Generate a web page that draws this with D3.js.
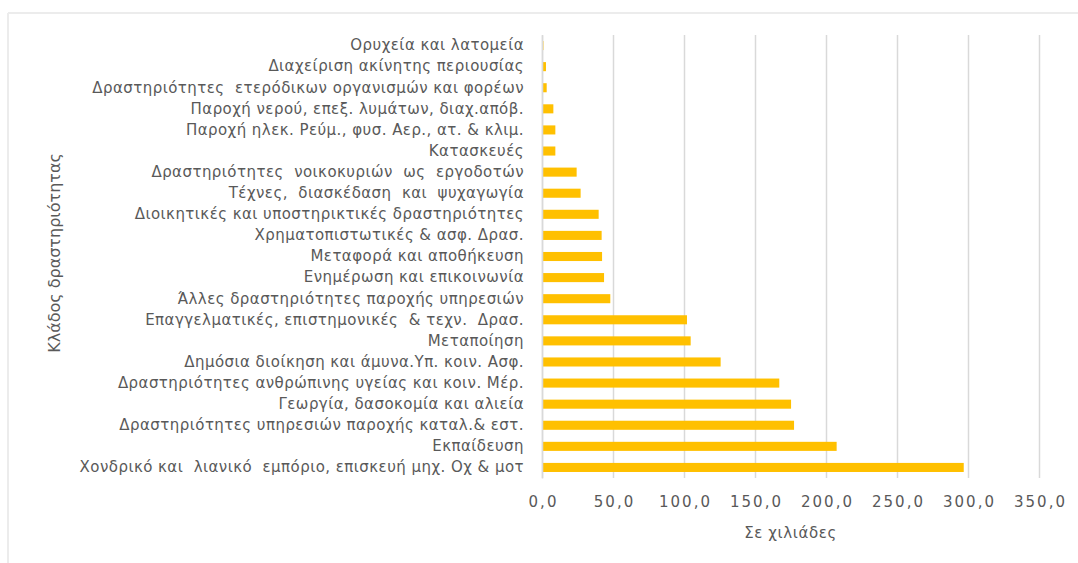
<!DOCTYPE html>
<html>
<head>
<meta charset="utf-8">
<script src="https://cdn.jsdelivr.net/npm/d3@7"></script>
<style>
  html, body { margin: 0; padding: 0; background: #ffffff; }
  svg { display: block; }
  text { white-space: pre; }
</style>
</head>
<body>
<svg id="chart" width="1078" height="563"></svg>
<script>
// Employment by sector of activity (thousands)
const categories = [
  "Ορυχεία και λατομεία",
  "Διαχείριση ακίνητης περιουσίας",
  "Δραστηριότητες  ετερόδικων οργανισμών και φορέων",
  "Παροχή νερού, επεξ. λυμάτων, διαχ.απόβ.",
  "Παροχή ηλεκ. Ρεύμ., φυσ. Αερ., ατ. & κλιμ.",
  "Κατασκευές",
  "Δραστηριότητες  νοικοκυριών  ως  εργοδοτών",
  "Τέχνες,  διασκέδαση  και  ψυχαγωγία",
  "Διοικητικές και υποστηρικτικές δραστηριότητες",
  "Χρηματοπιστωτικές & ασφ. Δρασ.",
  "Μεταφορά και αποθήκευση",
  "Ενημέρωση και επικοινωνία",
  "Άλλες δραστηριότητες παροχής υπηρεσιών",
  "Επαγγελματικές, επιστημονικές  & τεχν.  Δρασ.",
  "Μεταποίηση",
  "Δημόσια διοίκηση και άμυνα.Υπ. κοιν. Ασφ.",
  "Δραστηριότητες ανθρώπινης υγείας και κοιν. Μέρ.",
  "Γεωργία, δασοκομία και αλιεία",
  "Δραστηριότητες υπηρεσιών παροχής καταλ.& εστ.",
  "Εκπαίδευση",
  "Χονδρικό και  λιανικό  εμπόριο, επισκευή μηχ. Οχ & μοτ"
];

const values = [
  1.0, 2.8, 3.3, 8.0, 9.4, 9.4, 24.4, 27.2, 39.9, 42.0, 42.3,
  43.7, 48.1, 102.1, 104.7, 125.8, 167.1, 175.4, 177.5, 207.5, 297.0
];

const xTicks = [0, 50, 100, 150, 200, 250, 300, 350];

const xTitle = "Σε χιλιάδες";
const yTitle = "Κλάδος δραστηριότητας";

const data = categories.map((c, i) => ({ name: c, value: values[i] }));

const svg = d3.select("#chart");
const textColor = "#595959";
const gridColor = "#d9d9d9";
const barColor = "#FFC000";

const plot = { left: 542, right: 1039, top: 35, bottom: 478 };

const x = d3.scaleLinear().domain([0, 350]).range([plot.left, plot.right]);
const y = d3.scaleBand().domain(categories).range([plot.top, plot.bottom]).paddingInner(0.57).paddingOuter(0.285);

// chart area frame (top and left edges)
svg.append("line").attr("x1", 8).attr("x2", 1078).attr("y1", 13).attr("y2", 13)
  .attr("stroke", "#ececec").attr("stroke-width", 2);
svg.append("line").attr("x1", 8).attr("x2", 8).attr("y1", 13).attr("y2", 563)
  .attr("stroke", "#ececec").attr("stroke-width", 2);

// vertical gridlines
const xAxis = d3.axisBottom(x)
  .tickValues(xTicks)
  .tickSize(-(plot.bottom - plot.top))
  .tickPadding(18)
  .tickFormat(d => d3.format(".1f")(d).replace(".", ","));

const gx = svg.append("g")
  .attr("transform", `translate(0,${plot.bottom})`)
  .call(xAxis);
gx.select(".domain").remove();
gx.selectAll(".tick line").attr("stroke", gridColor).attr("stroke-width", 1.5);
gx.selectAll(".tick text")
  .attr("fill", textColor)
  .attr("dx", "1px")
  .style("font-family", "'DejaVu Sans', sans-serif")
  .style("font-size", "15px")
  .style("letter-spacing", "2px");

// bars
svg.append("g").selectAll("rect")
  .data(data)
  .join("rect")
  .attr("x", x(0))
  .attr("y", d => y(d.name))
  .attr("width", d => x(d.value) - x(0))
  .attr("height", y.bandwidth())
  .attr("fill", barColor);

// category axis
const yAxis = d3.axisLeft(y).tickSize(0).tickPadding(18);
const gy = svg.append("g")
  .attr("transform", `translate(${plot.left},0)`)
  .call(yAxis);
gy.select(".domain").attr("stroke", gridColor).attr("stroke-width", 1.5);
gy.selectAll(".tick text")
  .attr("fill", textColor)
  .style("font-family", "'DejaVu Sans', sans-serif")
  .style("font-size", "15px")
  .style("letter-spacing", "0.45px");

// axis titles
svg.append("text")
  .attr("x", (plot.left + plot.right) / 2)
  .attr("y", 538)
  .attr("text-anchor", "middle")
  .attr("fill", textColor)
  .style("font-family", "'DejaVu Sans', sans-serif")
  .style("font-size", "15px")
  .style("letter-spacing", "0.6px")
  .text(xTitle);

svg.append("text")
  .attr("transform", "translate(60,253) rotate(-90)")
  .attr("text-anchor", "middle")
  .attr("fill", textColor)
  .style("font-family", "'DejaVu Sans', sans-serif")
  .style("font-size", "16px")
  .text(yTitle);
</script>
</body>
</html>
